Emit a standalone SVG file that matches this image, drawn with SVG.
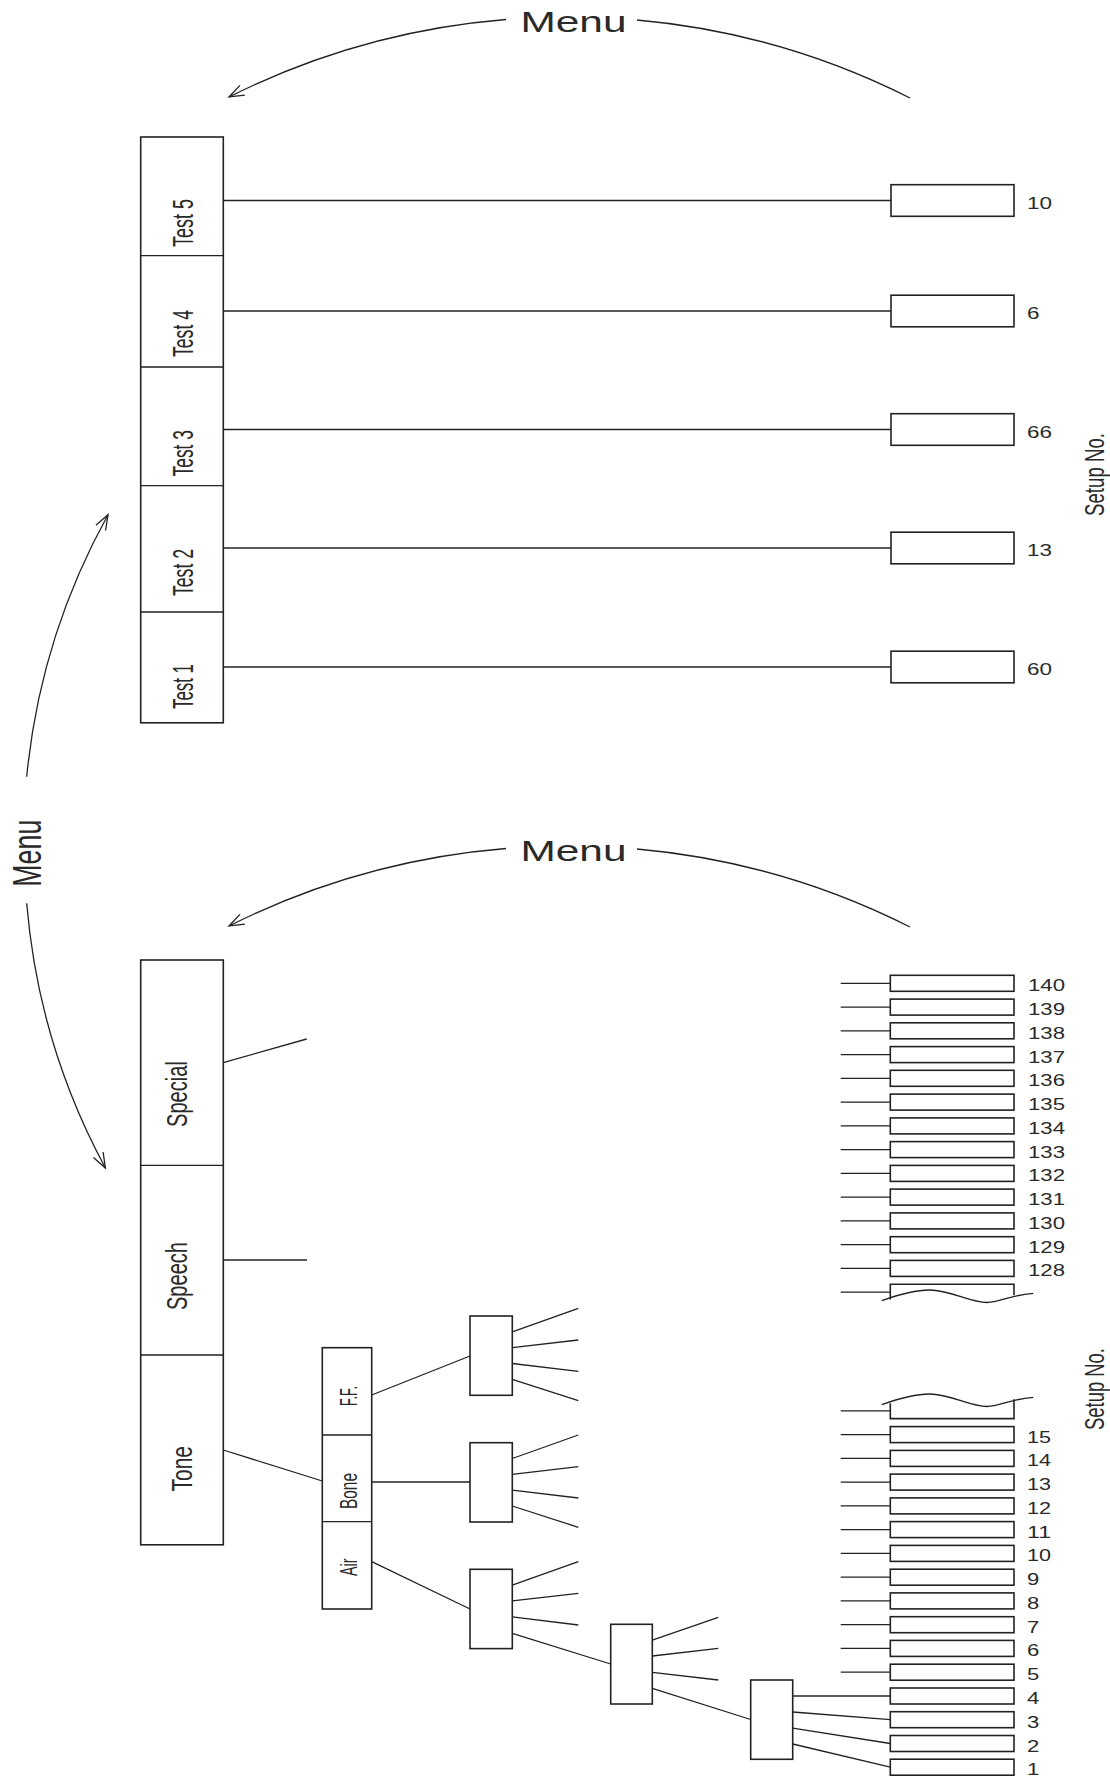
<svg xmlns="http://www.w3.org/2000/svg" width="1110" height="1778" viewBox="0 0 1110 1778">
<style>
  .bx{fill:#fff;stroke:#222;stroke-width:1.6}
  .ln{fill:none;stroke:#222;stroke-width:1.3}
  .arc{fill:none;stroke:#222;stroke-width:1.3}
  .lbl{font-family:"Liberation Sans",Arial,sans-serif;fill:#2a2a2a}
  .num{font-family:"Liberation Sans",Arial,sans-serif;font-size:17px;fill:#2a2a2a}
</style>
<defs>
  <marker id="arr" markerUnits="userSpaceOnUse" markerWidth="20" markerHeight="20" refX="0" refY="0" orient="auto" style="overflow:visible">
    <path d="M-15,-5.5 L0,0 L-15,5.5" fill="none" stroke="#222" stroke-width="1.3"/>
  </marker>
</defs>
<rect width="1110" height="1778" fill="#fff"/>

<!-- Menu arcs -->
<g id="menu-top">
  <path class="arc" d="M506,19.5 A754,754 0 0 0 229,97" marker-end="url(#arr)"/>
  <path class="arc" d="M637,20 A754,754 0 0 1 910,98"/>
  <text class="lbl" x="520.5" y="32.3" font-size="29" textLength="106" lengthAdjust="spacingAndGlyphs">Menu</text>
</g>
<g id="menu-mid">
  <path class="arc" d="M506,848.5 A754,754 0 0 0 229,926" marker-end="url(#arr)"/>
  <path class="arc" d="M637,849 A754,754 0 0 1 910,927"/>
  <text class="lbl" x="520.5" y="861.3" font-size="29" textLength="106" lengthAdjust="spacingAndGlyphs">Menu</text>
</g>
<g id="menu-left">
  <path class="arc" d="M26.7,776.7 A675,675 0 0 1 108,514.7" marker-end="url(#arr)"/>
  <path class="arc" d="M26.7,903.3 A675,675 0 0 0 105.4,1168" marker-end="url(#arr)"/>
  <text class="lbl" transform="translate(40.7,886.7) rotate(-90)" font-size="41" textLength="67" lengthAdjust="spacingAndGlyphs">Menu</text>
</g>

<!-- connectors -->
<g id="connectors">
  <line class="ln" x1="223.3" y1="200.5" x2="891" y2="200.5"/>
  <line class="ln" x1="223.3" y1="311" x2="891" y2="311"/>
  <line class="ln" x1="223.3" y1="429.5" x2="891" y2="429.5"/>
  <line class="ln" x1="223.3" y1="548" x2="891" y2="548"/>
  <line class="ln" x1="223.3" y1="667" x2="891" y2="667"/>

  <line class="ln" x1="223.3" y1="1062.6" x2="306.7" y2="1039"/>
  <line class="ln" x1="223.3" y1="1260" x2="307" y2="1260"/>
  <line class="ln" x1="223.3" y1="1450" x2="322.3" y2="1481"/>

  <line class="ln" x1="371.7" y1="1395" x2="470" y2="1356"/>
  <line class="ln" x1="371.7" y1="1482" x2="470" y2="1482"/>
  <line class="ln" x1="371.7" y1="1561.7" x2="470" y2="1609"/>

  <!-- fan A -->
  <line class="ln" x1="512.3" y1="1331.8" x2="578.3" y2="1308.3"/>
  <line class="ln" x1="512.3" y1="1347.6" x2="578.3" y2="1340"/>
  <line class="ln" x1="512.3" y1="1363.5" x2="578.3" y2="1371.3"/>
  <line class="ln" x1="512.3" y1="1379.3" x2="578.3" y2="1400.7"/>
  <!-- fan B -->
  <line class="ln" x1="512.3" y1="1458.5" x2="578.3" y2="1435"/>
  <line class="ln" x1="512.3" y1="1474.3" x2="578.3" y2="1466.7"/>
  <line class="ln" x1="512.3" y1="1490.2" x2="578.3" y2="1498"/>
  <line class="ln" x1="512.3" y1="1506" x2="578.3" y2="1527.3"/>
  <!-- fan C -->
  <line class="ln" x1="512.3" y1="1585.1" x2="578.3" y2="1561.7"/>
  <line class="ln" x1="512.3" y1="1600.9" x2="578.3" y2="1593.3"/>
  <line class="ln" x1="512.3" y1="1616.8" x2="578.3" y2="1625"/>
  <line class="ln" x1="512.3" y1="1633.3" x2="610.7" y2="1664"/>
  <!-- fan D -->
  <line class="ln" x1="652.3" y1="1640.1" x2="718.3" y2="1617.3"/>
  <line class="ln" x1="652.3" y1="1656" x2="718.3" y2="1648.3"/>
  <line class="ln" x1="652.3" y1="1672.4" x2="718.3" y2="1680"/>
  <line class="ln" x1="652.3" y1="1688.3" x2="750.7" y2="1719.5"/>
  <!-- fan E -->
  <line class="ln" x1="792.7" y1="1696" x2="890.3" y2="1696"/>
  <line class="ln" x1="792.7" y1="1712" x2="890.3" y2="1719.7"/>
  <line class="ln" x1="792.7" y1="1728.2" x2="890.3" y2="1743.5"/>
  <line class="ln" x1="792.7" y1="1744" x2="890.3" y2="1767.2"/>

  <!-- stub lines upper stack -->
  <path class="ln" d="M840.7,983.3H890.3M840.7,1007.1H890.3M840.7,1030.8H890.3M840.7,1054.6H890.3M840.7,1078.3H890.3M840.7,1102.1H890.3M840.7,1125.9H890.3M840.7,1149.6H890.3M840.7,1173.4H890.3M840.7,1197.1H890.3M840.7,1220.9H890.3M840.7,1244.7H890.3M840.7,1268.4H890.3M840.7,1292.2H890.3"/>
  <!-- stub lines lower stack -->
  <path class="ln" d="M840.7,1410.8H890.3M840.7,1434.6H890.3M840.7,1458.4H890.3M840.7,1482.1H890.3M840.7,1505.9H890.3M840.7,1529.6H890.3M840.7,1553.4H890.3M840.7,1577.2H890.3M840.7,1600.9H890.3M840.7,1624.7H890.3M840.7,1648.4H890.3M840.7,1672.2H890.3"/>
</g>

<!-- upper test column -->
<g id="test-menu">
  <rect class="bx" x="140.7" y="137" width="82.6" height="585.8"/>
  <path class="ln" d="M140.7,255.6H223.3M140.7,367H223.3M140.7,485.6H223.3M140.7,612H223.3"/>
</g>
<g id="test5"><text class="lbl" transform="translate(193,247) rotate(-90)" font-size="29" textLength="48" lengthAdjust="spacingAndGlyphs">Test 5</text></g>
<g id="test4"><text class="lbl" transform="translate(193,357) rotate(-90)" font-size="29" textLength="47" lengthAdjust="spacingAndGlyphs">Test 4</text></g>
<g id="test3"><text class="lbl" transform="translate(193,476.5) rotate(-90)" font-size="29" textLength="46.5" lengthAdjust="spacingAndGlyphs">Test 3</text></g>
<g id="test2"><text class="lbl" transform="translate(193,596) rotate(-90)" font-size="29" textLength="47" lengthAdjust="spacingAndGlyphs">Test 2</text></g>
<g id="test1"><text class="lbl" transform="translate(193,709) rotate(-90)" font-size="29" textLength="45" lengthAdjust="spacingAndGlyphs">Test 1</text></g>

<!-- upper setup boxes -->
<g id="setup-10"><rect class="bx" x="891" y="184.7" width="123" height="31.6"/><text class="num" x="1027" y="208.5" textLength="25" lengthAdjust="spacingAndGlyphs">10</text></g>
<g id="setup-6"><rect class="bx" x="891" y="295.2" width="123" height="31.6"/><text class="num" x="1027" y="319" textLength="12.5" lengthAdjust="spacingAndGlyphs">6</text></g>
<g id="setup-66"><rect class="bx" x="891" y="413.7" width="123" height="31.6"/><text class="num" x="1027" y="437.5" textLength="25" lengthAdjust="spacingAndGlyphs">66</text></g>
<g id="setup-13"><rect class="bx" x="891" y="532.2" width="123" height="31.6"/><text class="num" x="1027" y="556" textLength="25" lengthAdjust="spacingAndGlyphs">13</text></g>
<g id="setup-60"><rect class="bx" x="891" y="651.2" width="123" height="31.6"/><text class="num" x="1027" y="675" textLength="25" lengthAdjust="spacingAndGlyphs">60</text></g>
<g id="setup-label-top"><text class="lbl" transform="translate(1104,516) rotate(-90)" font-size="28" textLength="83" lengthAdjust="spacingAndGlyphs">Setup No.</text></g>

<!-- lower main column -->
<g id="main-menu">
  <rect class="bx" x="140.7" y="960" width="82.6" height="584.8"/>
  <path class="ln" d="M140.7,1165.4H223.3M140.7,1355H223.3"/>
</g>
<g id="special"><text class="lbl" transform="translate(186.5,1127) rotate(-90)" font-size="29" textLength="66" lengthAdjust="spacingAndGlyphs">Special</text></g>
<g id="speech"><text class="lbl" transform="translate(186.5,1310) rotate(-90)" font-size="29" textLength="68" lengthAdjust="spacingAndGlyphs">Speech</text></g>
<g id="tone"><text class="lbl" transform="translate(191.7,1491.5) rotate(-90)" font-size="29" textLength="45.5" lengthAdjust="spacingAndGlyphs">Tone</text></g>

<!-- transducer column -->
<g id="transducer">
  <rect class="bx" x="322.3" y="1347.7" width="49.4" height="261.3"/>
  <path class="ln" d="M322.3,1435H371.7M322.3,1521.7H371.7"/>
</g>
<g id="ff"><text class="lbl" transform="translate(356.7,1406) rotate(-90)" font-size="24" textLength="20" lengthAdjust="spacingAndGlyphs">F.F.</text></g>
<g id="bone"><text class="lbl" transform="translate(356.7,1509) rotate(-90)" font-size="24" textLength="36" lengthAdjust="spacingAndGlyphs">Bone</text></g>
<g id="air"><text class="lbl" transform="translate(356.7,1576) rotate(-90)" font-size="24" textLength="17.5" lengthAdjust="spacingAndGlyphs">Air</text></g>

<!-- tree boxes -->
<g id="box-a"><rect class="bx" x="470" y="1316" width="42.3" height="79.3"/></g>
<g id="box-b"><rect class="bx" x="470" y="1442.7" width="42.3" height="79.3"/></g>
<g id="box-c"><rect class="bx" x="470" y="1569.3" width="42.3" height="79.3"/></g>
<g id="box-d"><rect class="bx" x="610.7" y="1624.3" width="41.6" height="79.7"/></g>
<g id="box-e"><rect class="bx" x="750.7" y="1680" width="42" height="79.3"/></g>

<!-- upper stack 140..128 -->
<g id="stack-high">
  <rect class="bx" x="890.3" y="975.3" width="123.7" height="16"/>
  <rect class="bx" x="890.3" y="999.1" width="123.7" height="16"/>
  <rect class="bx" x="890.3" y="1022.8" width="123.7" height="16"/>
  <rect class="bx" x="890.3" y="1046.6" width="123.7" height="16"/>
  <rect class="bx" x="890.3" y="1070.3" width="123.7" height="16"/>
  <rect class="bx" x="890.3" y="1094.1" width="123.7" height="16"/>
  <rect class="bx" x="890.3" y="1117.9" width="123.7" height="16"/>
  <rect class="bx" x="890.3" y="1141.6" width="123.7" height="16"/>
  <rect class="bx" x="890.3" y="1165.4" width="123.7" height="16"/>
  <rect class="bx" x="890.3" y="1189.1" width="123.7" height="16"/>
  <rect class="bx" x="890.3" y="1212.9" width="123.7" height="16"/>
  <rect class="bx" x="890.3" y="1236.7" width="123.7" height="16"/>
  <rect class="bx" x="890.3" y="1260.4" width="123.7" height="16"/>
  <path class="bx" d="M890.3,1299.6V1284.2H1014V1295.2"/>
  <path class="ln" d="M881.7,1300.7C900,1294 915,1290 930,1290C950,1290 970,1302.5 986.7,1302.5C1000,1302.5 1010,1295 1033.3,1293.3"/>
  <text class="num" x="1028" y="991.3" textLength="37" lengthAdjust="spacingAndGlyphs">140</text>
  <text class="num" x="1028" y="1015.1" textLength="37" lengthAdjust="spacingAndGlyphs">139</text>
  <text class="num" x="1028" y="1038.8" textLength="37" lengthAdjust="spacingAndGlyphs">138</text>
  <text class="num" x="1028" y="1062.6" textLength="37" lengthAdjust="spacingAndGlyphs">137</text>
  <text class="num" x="1028" y="1086.3" textLength="37" lengthAdjust="spacingAndGlyphs">136</text>
  <text class="num" x="1028" y="1110.1" textLength="37" lengthAdjust="spacingAndGlyphs">135</text>
  <text class="num" x="1028" y="1133.9" textLength="37" lengthAdjust="spacingAndGlyphs">134</text>
  <text class="num" x="1028" y="1157.6" textLength="37" lengthAdjust="spacingAndGlyphs">133</text>
  <text class="num" x="1028" y="1181.4" textLength="37" lengthAdjust="spacingAndGlyphs">132</text>
  <text class="num" x="1028" y="1205.1" textLength="37" lengthAdjust="spacingAndGlyphs">131</text>
  <text class="num" x="1028" y="1228.9" textLength="37" lengthAdjust="spacingAndGlyphs">130</text>
  <text class="num" x="1028" y="1252.7" textLength="37" lengthAdjust="spacingAndGlyphs">129</text>
  <text class="num" x="1028" y="1276.4" textLength="37" lengthAdjust="spacingAndGlyphs">128</text>
</g>

<!-- lower stack 15..1 -->
<g id="stack-low">
  <path class="bx" d="M890.3,1403.3V1418.6H1014V1399.2"/>
  <path class="ln" d="M881.7,1404.7C900,1398 915,1394 930,1394C950,1394 970,1406.5 986.7,1406.5C1000,1406.5 1010,1399 1033.3,1397.3"/>
  <rect class="bx" x="890.3" y="1426.6" width="123.7" height="16"/>
  <rect class="bx" x="890.3" y="1450.4" width="123.7" height="16"/>
  <rect class="bx" x="890.3" y="1474.1" width="123.7" height="16"/>
  <rect class="bx" x="890.3" y="1497.9" width="123.7" height="16"/>
  <rect class="bx" x="890.3" y="1521.6" width="123.7" height="16"/>
  <rect class="bx" x="890.3" y="1545.4" width="123.7" height="16"/>
  <rect class="bx" x="890.3" y="1569.2" width="123.7" height="16"/>
  <rect class="bx" x="890.3" y="1592.9" width="123.7" height="16"/>
  <rect class="bx" x="890.3" y="1616.7" width="123.7" height="16"/>
  <rect class="bx" x="890.3" y="1640.4" width="123.7" height="16"/>
  <rect class="bx" x="890.3" y="1664.2" width="123.7" height="16"/>
  <rect class="bx" x="890.3" y="1688" width="123.7" height="16"/>
  <rect class="bx" x="890.3" y="1711.7" width="123.7" height="16"/>
  <rect class="bx" x="890.3" y="1735.5" width="123.7" height="16"/>
  <rect class="bx" x="890.3" y="1759.2" width="123.7" height="16"/>
  <text class="num" x="1027" y="1442.6" textLength="24" lengthAdjust="spacingAndGlyphs">15</text>
  <text class="num" x="1027" y="1466.4" textLength="24" lengthAdjust="spacingAndGlyphs">14</text>
  <text class="num" x="1027" y="1490.1" textLength="24" lengthAdjust="spacingAndGlyphs">13</text>
  <text class="num" x="1027" y="1513.9" textLength="24" lengthAdjust="spacingAndGlyphs">12</text>
  <text class="num" x="1027" y="1537.6" textLength="24" lengthAdjust="spacingAndGlyphs">11</text>
  <text class="num" x="1027" y="1561.4" textLength="24" lengthAdjust="spacingAndGlyphs">10</text>
  <text class="num" x="1027" y="1585.2" textLength="12.3" lengthAdjust="spacingAndGlyphs">9</text>
  <text class="num" x="1027" y="1608.9" textLength="12.3" lengthAdjust="spacingAndGlyphs">8</text>
  <text class="num" x="1027" y="1632.7" textLength="12.3" lengthAdjust="spacingAndGlyphs">7</text>
  <text class="num" x="1027" y="1656.4" textLength="12.3" lengthAdjust="spacingAndGlyphs">6</text>
  <text class="num" x="1027" y="1680.2" textLength="12.3" lengthAdjust="spacingAndGlyphs">5</text>
  <text class="num" x="1027" y="1704" textLength="12.3" lengthAdjust="spacingAndGlyphs">4</text>
  <text class="num" x="1027" y="1727.7" textLength="12.3" lengthAdjust="spacingAndGlyphs">3</text>
  <text class="num" x="1027" y="1751.5" textLength="12.3" lengthAdjust="spacingAndGlyphs">2</text>
  <text class="num" x="1027" y="1775.2" textLength="12.3" lengthAdjust="spacingAndGlyphs">1</text>
</g>
<g id="setup-label-bottom"><text class="lbl" transform="translate(1104,1430) rotate(-90)" font-size="28" textLength="82" lengthAdjust="spacingAndGlyphs">Setup No.</text></g>
</svg>
